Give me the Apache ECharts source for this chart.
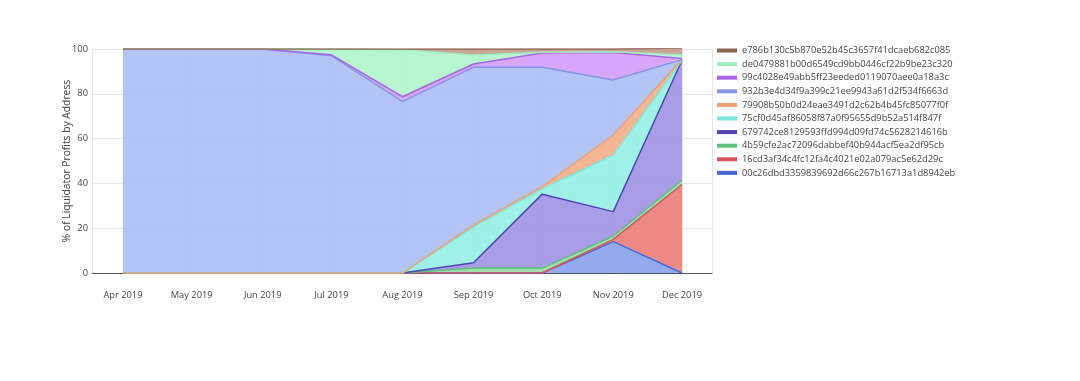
<!DOCTYPE html>
<html>
<head>
<meta charset="utf-8">
<script src="https://cdn.jsdelivr.net/npm/echarts@6/dist/echarts.min.js"></script>
<style>
html,body{margin:0;padding:0;background:#fff;}
#chart{width:1080px;height:381px;}
</style>
</head>
<body>
<div id="chart"></div>
<script>
// Categories (x axis tick labels) and their dates
const months = ['Apr 2019','May 2019','Jun 2019','Jul 2019','Aug 2019','Sep 2019','Oct 2019','Nov 2019','Dec 2019'];
const monthDates = ['2019-04-01','2019-05-01','2019-06-01','2019-07-01','2019-08-01','2019-09-01','2019-10-01','2019-11-01','2019-12-01'];
const yTicks = [0, 20, 40, 60, 80, 100];

// Series names, bottom of stack first
const names = [
  '00c26dbd3359839692d66c267b16713a1d8942eb',
  '16cd3af34c4fc12fa4c4021e02a079ac5e62d29c',
  '4b59cfe2ac72096dabbef40b944acf5ea2df95cb',
  '679742ce8129593ffd994d09fd74c5628214616b',
  '75cf0d45af86058f87a0f95655d9b52a514f847f',
  '79908b50b0d24eae3491d2c62b4b45fc85077f0f',
  '932b3e4d34f9a399c21ee9943a61d2f534f6663d',
  '99c4028e49abb5ff23eeded0119070aee0a18a3c',
  'de0479881b00d6549cd9bb0446cf22b9be23c320',
  'e786b130c5b870e52b45c3657f41dcaeb682c085'
];

// % of liquidator profits per month (Apr..Dec 2019)
const v00c2 = [0, 0, 0, 0, 0, 0, 0, 14, 0];
const v16cd = [0, 0, 0, 0, 0, 0, 0, 1, 39.5];
const v4b59 = [0, 0, 0, 0, 0, 2.2, 2.2, 1.5, 2];
const v6797 = [0, 0, 0, 0, 0, 2.4, 33, 10.9, 53.5];
const v75cf = [0, 0, 0, 0, 0, 16, 2.4, 25.3, 0];
const v7990 = [0, 0, 0, 0, 0, 0.8, 1, 8.9, 0.3];
const v932b = [100, 100, 100, 97, 76.5, 70.4, 53.3, 24.6, 0];
const v99c4 = [0, 0, 0, 0.4, 2.2, 1.5, 6.3, 12.2, 0.5];
const vde04 = [0, 0, 0, 2.6, 21, 4, 0.3, 0.4, 1.5];
const ve786 = [0, 0, 0, 0, 0.3, 2.7, 1.5, 1.2, 3.2];

const values = [v00c2, v16cd, v4b59, v6797, v75cf, v7990, v932b, v99c4, vde04, ve786];

const lineColors = ['#4568dc','#d9535a','#5cbf7a','#5244b8','#7be6dc','#f0a070','#8296e6','#a866e6','#9eeebe','#8e624c'];
const fillColors = ['#859eee','#ec7a74','#92d8a0','#9d8fe5','#92eee4','#f4ad84','#aabcf3','#d29af7','#aef5ca','#c09885'];

function ts(s) { const p = s.split('-').map(Number); return new Date(p[0], p[1] - 1, p[2]).getTime(); }
const xs = monthDates.map(ts);
const DAY = 86400000;

function monthLabel(v) {
  const d = new Date(v);
  for (let k = 0; k < xs.length; k++) {
    const e = new Date(xs[k]);
    if (e.getFullYear() === d.getFullYear() && e.getMonth() === d.getMonth() && d.getDate() === 1) return months[k];
  }
  return '';
}

const series = names.map((n, i) => ({
  name: n,
  type: 'line',
  stack: 'total',
  showSymbol: false,
  symbol: 'none',
  data: values[i].map((v, j) => [xs[j], v]),
  lineStyle: { color: lineColors[i], width: 1.5 },
  itemStyle: { color: lineColors[i] },
  areaStyle: { color: fillColors[i], opacity: 0.88 },
  emphasis: { disabled: true },
  animation: false
}));

const chart = echarts.init(document.getElementById('chart'));
chart.setOption({
  animation: false,
  backgroundColor: '#fff',
  textStyle: { fontFamily: 'Open Sans' },
  grid: { left: 92, right: 368, top: 49, bottom: 108, containLabel: false },
  legend: {
    orient: 'vertical',
    left: 712,
    top: 41,
    data: names.slice().reverse(),
    icon: 'rect',
    itemWidth: 20,
    itemHeight: 4,
    itemGap: 4.6,
    textStyle: { fontSize: 9.3, color: '#444', fontFamily: 'Open Sans' }
  },
  xAxis: {
    type: 'time',
    min: xs[0] - 13.5 * DAY,
    max: xs[xs.length - 1] + 13.1 * DAY,
    axisLine: { show: true, onZero: false, lineStyle: { color: '#555', width: 1 } },
    axisTick: { show: false },
    axisLabel: {
      formatter: v => monthLabel(v),
      fontSize: 9.3,
      color: '#444',
      margin: 18,
      showMinLabel: false,
      showMaxLabel: false,
      hideOverlap: false
    },
    splitLine: { show: true, lineStyle: { color: '#e6e6e6', width: 1 } }
  },
  yAxis: {
    type: 'value',
    min: yTicks[0],
    max: yTicks[yTicks.length - 1],
    interval: 20,
    name: '% of Liquidator Profits by Address',
    nameLocation: 'middle',
    nameMoveOverlap: false,
    nameGap: 20,
    nameTextStyle: { fontSize: 10.3, color: '#444' },
    axisLine: { show: false },
    axisTick: { show: false },
    axisLabel: { fontSize: 9.3, color: '#444', margin: 4 },
    splitLine: { lineStyle: { color: '#e6e6e6', width: 1 } }
  },
  series: series
});
</script>
</body>
</html>
